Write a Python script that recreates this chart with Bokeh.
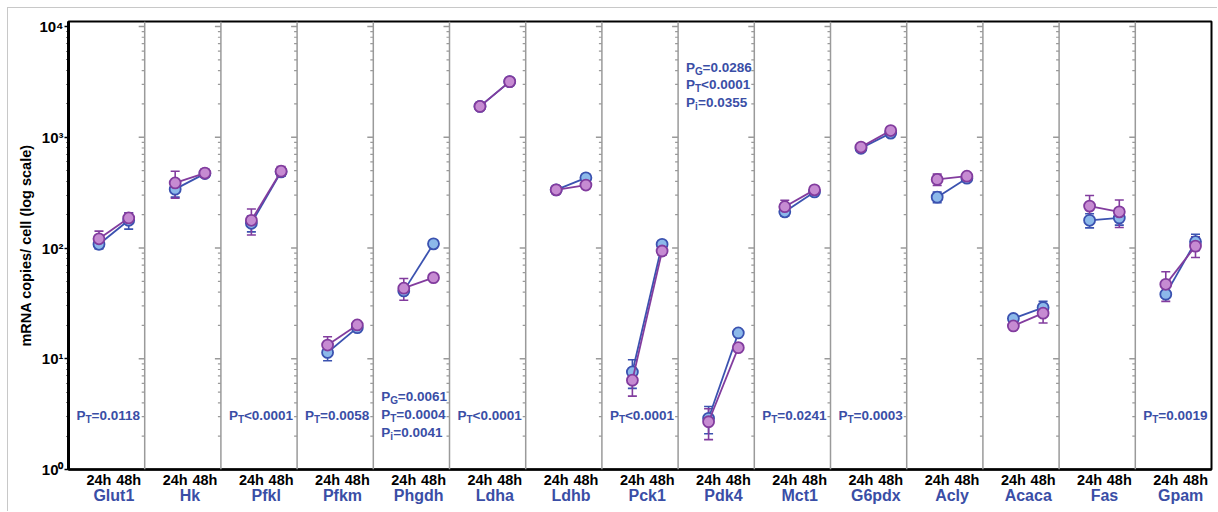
import numpy as np
from bokeh.plotting import figure
from bokeh.models import (Range1d, FixedTicker, LinearAxis, CustomJSTickFormatter,
                          ColumnDataSource, Whisker, TeeHead, Span)
from bokeh.embed import file_html
from bokeh.resources import INLINE
from bokeh.core.properties import value

# ---------------- data ----------------
genes = ["Glut1", "Hk", "Pfkl", "Pfkm", "Phgdh", "Ldha", "Ldhb", "Pck1", "Pdk4",
         "Mct1", "G6pdx", "Acly", "Acaca", "Fas", "Gpam"]
times = ["24h", "48h"]

blue_24 = [108, 340, 167, 11.4, 41, 1900, 335, 7.6, 2.9, 212, 795, 288, 23.1, 178, 38.3]
blue_48 = [178, 470, 487, 19.1, 109, 3180, 430, 108, 17.1, 321, 1090, 427, 29, 187, 114]
blue_24_err = [10, 52, 27, 1.8, 2.5, 60, 10, 2.2, 0.8, 17, 20, 32, 1.5, 26, 2]
blue_48_err = [30, 30, 40, 1.0, 5, 80, 30, 8, 1.0, 15, 40, 20, 4, 26, 19]

purple_24 = [121, 387, 178, 13.3, 43.4, 1900, 335, 6.4, 2.7, 236, 815, 416, 19.8, 239, 47]
purple_48 = [187, 475, 494, 20.2, 54, 3180, 370, 94, 12.6, 335, 1150, 445, 25.8, 212, 104]
purple_24_err = [21, 106, 47, 2.5, 9.6, 60, 10, 1.8, 0.84, 34, 30, 49, 1, 59, 14]
purple_48_err = [20, 40, 50, 1.0, 3, 80, 25, 8, 0.6, 15, 40, 20, 4.8, 59, 22]

p_values = {
    "Glut1": [("T", "=0.0118")],
    "Pfkl": [("T", "<0.0001")],
    "Pfkm": [("T", "=0.0058")],
    "Phgdh": [("G", "=0.0061"), ("T", "=0.0004"), ("i", "=0.0041")],
    "Ldha": [("T", "<0.0001")],
    "Pck1": [("T", "<0.0001")],
    "Pdk4": [("G", "=0.0286"), ("T", "<0.0001"), ("i", "=0.0355")],
    "Mct1": [("T", "=0.0241")],
    "G6pdx": [("T", "=0.0003")],
    "Gpam": [("T", "=0.0019")],
}

# ---------------- styles ----------------
FONT = "Liberation Sans"
BLUE_LINE, BLUE_FILL = "#3b52b0", "#8cb9ea"
PURP_LINE, PURP_FILL = "#823c9e", "#c68bd2"
TXT_BLUE = "#3a4ea6"
GRAY = "#9a9a9a"

n = len(genes)
X24, X48 = 0.40, 0.79
x24 = [i + X24 for i in range(n)]
x48 = [i + X48 for i in range(n)]

p = figure(width=1210, height=504, y_axis_type="log",
           x_range=Range1d(0, n), y_range=Range1d(1, 11100),
           output_backend="svg", toolbar_location=None,
           min_border_left=60, min_border_right=7, min_border_top=13, min_border_bottom=43)
p.styles = {"margin-left": "7px", "margin-top": "7px",
            "border-left": "1px solid #c8c8c8", "border-top": "1px solid #c8c8c8"}
p.xgrid.visible = False
p.ygrid.visible = False
p.outline_line_color = "black"
p.outline_line_width = 2
p.outline_line_alpha = 1

# y axis
ya = p.yaxis[0]
ya.ticker = FixedTicker(ticks=[1, 10, 100, 1000, 10000],
                        minor_ticks=[k * 10 ** d for d in range(4) for k in range(2, 10)])
ya.formatter = CustomJSTickFormatter(code="""
const s = {"0":"\u2070","1":"\u00b9","2":"\u00b2","3":"\u00b3","4":"\u2074"};
return "10" + s[String(Math.round(Math.log10(tick)))];
""")
ya.axis_label = "mRNA copies/ cell (log scale)"
ya.axis_label_text_font = FONT
ya.axis_label_text_font_style = "bold"
ya.axis_label_text_font_size = "14.5px"
ya.axis_label_text_color = "black"
ya.axis_label_standoff = 2
ya.axis_line_width = 3
ya.axis_line_color = "black"
ya.major_tick_out = 4
ya.major_tick_in = 0
ya.minor_tick_out = 2
ya.minor_tick_in = 0
ya.major_tick_line_width = 1.5
ya.minor_tick_line_width = 1.2
ya.major_tick_line_color = "black"
ya.minor_tick_line_color = "black"
ya.major_label_text_font = FONT
ya.major_label_text_font_style = "bold"
ya.major_label_text_font_size = "15px"
ya.major_label_text_color = "black"
ya.major_label_standoff = 1

# x axis (time labels)
xa = p.xaxis[0]
xa.ticker = FixedTicker(ticks=x24 + x48)
xa.formatter = CustomJSTickFormatter(args=dict(times=times), code="""
const f = tick - Math.floor(tick);
return f < 0.6 ? times[0] : times[1];
""")
xa.axis_line_width = 2.5
xa.axis_line_color = "black"
xa.major_tick_out = 0
xa.major_tick_in = 0
xa.minor_tick_line_color = None
xa.major_label_standoff = 2
xa.major_label_text_font = FONT
xa.major_label_text_font_style = "bold"
xa.major_label_text_font_size = "14.5px"
xa.major_label_text_color = "black"

# gene name axis
ga = LinearAxis(ticker=FixedTicker(ticks=[i + (X24 + X48) / 2 for i in range(n)]),
                formatter=CustomJSTickFormatter(args=dict(genes=genes),
                                                code="return genes[Math.floor(tick)];"))
ga.axis_line_color = None
ga.major_tick_line_color = None
ga.minor_tick_line_color = None
ga.major_tick_out = 0
ga.major_tick_in = 0
ga.major_label_standoff = -4
ga.major_label_text_font = FONT
ga.major_label_text_font_style = "bold"
ga.major_label_text_font_size = "16px"
ga.major_label_text_color = TXT_BLUE
p.add_layout(ga, "below")

# panel dividers with small ticks
for i in range(1, n):
    p.add_layout(Span(location=i, dimension="height", line_color=GRAY, line_width=1.5))
maj = [1, 10, 100, 1000, 10000]
mnr = [k * 10 ** d for d in range(4) for k in range(2, 10)]
p.ray(x=[i for i in range(1, n) for _ in maj], y=[t for _ in range(1, n) for t in maj],
      length=6, length_units="screen", angle=np.pi, line_color=GRAY, line_width=1.4)
p.ray(x=[i for i in range(1, n) for _ in mnr], y=[t for _ in range(1, n) for t in mnr],
      length=3, length_units="screen", angle=np.pi, line_color=GRAY, line_width=1.2)


def draw_series(v24, v48, e24, e48, lc, fc):
    src_l = ColumnDataSource(dict(x0=x24, y0=v24, x1=x48, y1=v48))
    p.segment(x0="x0", y0="y0", x1="x1", y1="y1", source=src_l, line_color=lc, line_width=1.8)
    ys = list(v24) + list(v48)
    es = list(e24) + list(e48)
    src = ColumnDataSource(dict(x=x24 + x48, y=ys,
                                up=[y + e for y, e in zip(ys, es)],
                                lo=[y - e for y, e in zip(ys, es)]))
    p.add_layout(Whisker(base="x", upper="up", lower="lo", source=src, level="underlay",
                         line_color=lc, line_width=1.6,
                         upper_head=TeeHead(size=9, line_color=lc, line_width=1.6),
                         lower_head=TeeHead(size=9, line_color=lc, line_width=1.6)))
    p.scatter("x", "y", source=src, size=11, fill_color=fc, line_color=lc, line_width=1.8)


draw_series(blue_24, blue_48, blue_24_err, blue_48_err, BLUE_LINE, BLUE_FILL)
draw_series(purple_24, purple_48, purple_24_err, purple_48_err, PURP_LINE, PURP_FILL)

# p-value annotations (P + subscript + rest)
level = {"Phgdh": 4.55, "Pdk4": 4300}
P_W = 9.0
SUB_W = {"T": 6.0, "G": 7.5, "i": 3.0}
main = dict(x=[], y=[], text=[], xo=[], yo=[])
subs = dict(x=[], y=[], text=[], xo=[], yo=[])
for g, lines in p_values.items():
    i = genes.index(g)
    y0 = level.get(g, 3.1)
    for k, (sub, rest) in enumerate(lines):
        yo = k * 17.7
        for d, t, xo, yy in ((main, "P", 8, yo), (subs, sub, 8 + P_W, yo + 4),
                             (main, rest, 8 + P_W + SUB_W[sub], yo)):
            d["x"].append(i); d["y"].append(y0); d["text"].append(t)
            d["xo"].append(xo); d["yo"].append(yy)

p.text(x="x", y="y", text="text", x_offset="xo", y_offset="yo", source=ColumnDataSource(main),
       text_font=value(FONT), text_font_style="bold", text_font_size="13.5px",
       text_color=TXT_BLUE, text_baseline="middle", text_align="left")
p.text(x="x", y="y", text="text", x_offset="xo", y_offset="yo", source=ColumnDataSource(subs),
       text_font=value(FONT), text_font_style="bold", text_font_size="10px",
       text_color=TXT_BLUE, text_baseline="middle", text_align="left")

open("out.html", "w").write(file_html(p, INLINE))
